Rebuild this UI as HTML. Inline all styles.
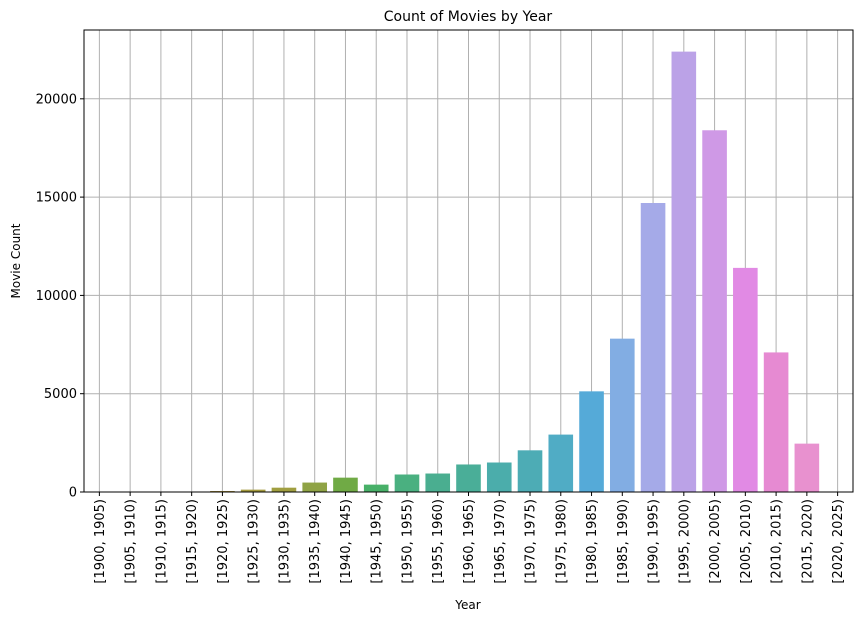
<!DOCTYPE html>
<html><head><meta charset="utf-8"><style>
body{margin:0;background:#fff;font-family:"Liberation Sans","DejaVu Sans",sans-serif;}
svg text{font-family:"DejaVu Sans","Liberation Sans",sans-serif;fill:#000;}
</style></head><body>
<svg id="chart" width="868" height="622" xmlns="http://www.w3.org/2000/svg">
<text x="468" y="21" font-size="14" text-anchor="middle">Count of Movies by Year</text>
<text x="468" y="609" font-size="12" text-anchor="middle">Year</text>
<text x="0" y="0" font-size="12" text-anchor="middle" transform="translate(20,261) rotate(-90)">Movie Count</text>
<g id="grid"></g><g id="bars"></g><g id="axes"></g>
</svg>
<script>
const categories=["[1900, 1905)","[1905, 1910)","[1910, 1915)","[1915, 1920)","[1920, 1925)","[1925, 1930)","[1930, 1935)","[1935, 1940)","[1940, 1945)","[1945, 1950)","[1950, 1955)","[1955, 1960)","[1960, 1965)","[1965, 1970)","[1970, 1975)","[1975, 1980)","[1980, 1985)","[1985, 1990)","[1990, 1995)","[1995, 2000)","[2000, 2005)","[2005, 2010)","[2010, 2015)","[2015, 2020)","[2020, 2025)"];
const counts=[3,5,8,12,50,120,220,480,730,375,890,940,1400,1500,2120,2920,5120,7800,14700,22400,18400,11400,7100,2460,2];
const yTicks=[0,5000,10000,15000,20000];
const colors=["#f77189","#f5735c","#e0803a","#c68e32","#a08a3a","#a39a3e","#a09e40","#8fa345","#70aa45","#48b068","#4ab080","#4aae90","#4aae98","#4badab","#4dacb5","#50acc5","#55aad8","#82ade3","#a5aae8","#bba2e7","#cf99e6","#e18ae4","#e68ad2","#e891cf","#f57ab6"];
const L=84,R=853,T=30,B=492,ymax=23500;
const ns="http://www.w3.org/2000/svg";
const step=(R-L)/categories.length;
const xC=i=>L+(i+0.5)*step;
const yS=v=>B-v/ymax*(B-T);
function mk(tag,attrs,parent){const e=document.createElementNS(ns,tag);for(const k in attrs)e.setAttribute(k,attrs[k]);parent.appendChild(e);return e;}
const grid=document.getElementById('grid'),bars=document.getElementById('bars'),axes=document.getElementById('axes');
categories.forEach((c,i)=>{
  const g=mk('line',{x1:xC(i),x2:xC(i),y1:T,y2:B,stroke:'#b0b0b0','stroke-width':1},grid);
  
  
});
yTicks.forEach(v=>{
  const g=mk('line',{x1:L,x2:R,y1:yS(v),y2:yS(v),stroke:'#b0b0b0','stroke-width':1},grid);
  
  
  const t=mk('line',{x1:L-4,x2:L,y1:yS(v),y2:yS(v),stroke:'#000'},axes);
  
  
  const l=mk('text',{x:L-7,y:yS(v)+4.5,'font-size':13,'text-anchor':'end'},axes);
  l.textContent=v;
  
  
});
const bw=step*0.8;
counts.forEach((v,i)=>{
  const r=mk('rect',{x:xC(i)-bw/2,y:yS(v),width:bw,height:B-yS(v),fill:colors[i]},bars);
  
  
});
categories.forEach((c,i)=>{
  const t=mk('line',{x1:xC(i),x2:xC(i),y1:B,y2:B+4,stroke:'#000'},axes);
  
  
  const l=mk('text',{x:0,y:0,'font-size':13,'text-anchor':'end',transform:`translate(${xC(i)+4.5},${B+7}) rotate(-90)`},axes);
  l.textContent=c;
  
  
});
const fr=mk('rect',{x:L,y:T,width:R-L,height:B-T,fill:'none',stroke:'#000','stroke-width':1},axes);


</script>
</body></html>
